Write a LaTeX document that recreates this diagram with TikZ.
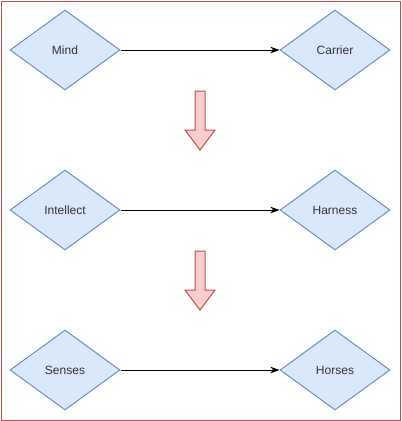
\documentclass[tikz,border=0pt]{standalone}
\usepackage{fontspec}
\setmainfont{Liberation Sans}
\usetikzlibrary{shapes.geometric,arrows.meta}
\definecolor{dfill}{HTML}{DAE8FC}
\definecolor{dline}{HTML}{6C8EBF}
\definecolor{afill}{HTML}{F8CECC}
\definecolor{aline}{HTML}{B85450}
\begin{document}
\begin{tikzpicture}[x=0.75pt,y=-0.75pt,
  dia/.style={diamond,draw=dline,fill=dfill,line width=0.75pt,minimum width=110*0.75pt,minimum height=80*0.75pt,inner sep=0pt,aspect=1.375,font=\fontsize{9}{11}\selectfont,text=black!80},
  conn/.style={-{Stealth[length=7pt,width=5pt]},line width=0.75pt,black},
  blk/.style={draw=aline,fill=afill,line width=0.75pt}]
\useasboundingbox (0,0) rectangle (401,421);
\draw[aline,line width=0.75pt] (1,1) rectangle (400,420);
\node[dia] (mind) at (65,50) {Mind};
\node[dia] (carrier) at (335,50) {Carrier};
\node[dia] (intellect) at (65,210) {Intellect};
\node[dia] (harness) at (335,210) {Harness};
\node[dia] (senses) at (65,370) {Senses};
\node[dia] (horses) at (335,370) {Horses};
\draw[conn] (mind.east) -- (carrier.west);
\draw[conn] (intellect.east) -- (harness.west);
\draw[conn] (senses.east) -- (horses.west);
\draw[blk] (195,91) -- (205,91) -- (205,130) -- (215,130) -- (200,150) -- (185,130) -- (195,130) -- cycle;
\draw[blk] (195,251) -- (205,251) -- (205,290) -- (215,290) -- (200,310) -- (185,290) -- (195,290) -- cycle;
\end{tikzpicture}
\end{document}
